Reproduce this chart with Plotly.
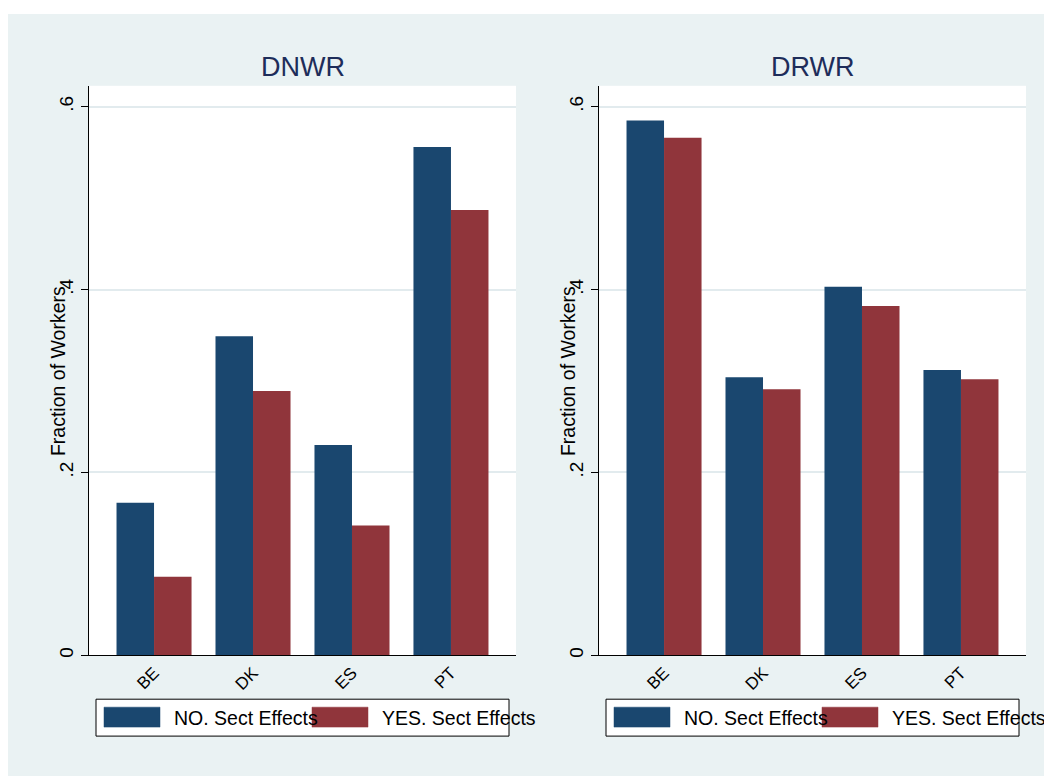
import plotly.graph_objects as go

# The page has an 8px body margin, so the figure is placed at (8, 8)
PAGE_OFF = 8
W, H = 1052 - PAGE_OFF, 776 - PAGE_OFF

countries = ["BE", "DK", "ES", "PT"]
panel_titles = ["DNWR", "DRWR"]
series_names = ["NO. Sect Effects", "YES. Sect Effects"]
dnwr_no = [0.167, 0.349, 0.230, 0.556]
dnwr_yes = [0.086, 0.289, 0.142, 0.487]
drwr_no = [0.585, 0.304, 0.403, 0.312]
drwr_yes = [0.566, 0.291, 0.382, 0.302]
ytick_vals = [0, 0.2, 0.4, 0.6]
ytick_text = ["0", ".2", ".4", ".6"]
y_title = "Fraction of Workers"

colors = ["#1A476F", "#90353B"]
FONT = "Liberation Sans, Arial, sans-serif"
BG = "#EAF2F3"


def px(x):
    return (x - PAGE_OFF) / W


def py(y):
    return 1 - (y - PAGE_OFF) / H


panels = [(dnwr_no, dnwr_yes), (drwr_no, drwr_yes)]
offset = 510  # horizontal pixel offset between panels

fig = go.Figure()
for i, (no_vals, yes_vals) in enumerate(panels):
    xa = "x" if i == 0 else "x2"
    ya = "y" if i == 0 else "y2"
    for j, vals in enumerate([no_vals, yes_vals]):
        fig.add_trace(go.Bar(
            x=countries, y=vals, name=series_names[j],
            marker=dict(color=colors[j], line=dict(width=0)),
            xaxis=xa, yaxis=ya, showlegend=False,
        ))

layout = dict(
    width=W, height=H,
    margin=dict(l=0, r=0, t=0, b=0),
    paper_bgcolor=BG, plot_bgcolor="white",
    barmode="group", bargap=0.242, bargroupgap=0,
    font=dict(family=FONT, color="black"),
    showlegend=False,
)

shapes = [
    dict(type="rect", xref="paper", yref="paper", x0=0, x1=1, y0=py(14), y1=1,
         fillcolor="white", line=dict(width=0), layer="below"),
]
annotations = []

for i in range(2):
    o = offset * i
    sfx = "" if i == 0 else "2"
    left, right, top, bottom = 89 + o, 516 + o, 86, 657
    layout["xaxis" + sfx] = dict(
        domain=[px(left), px(right)], anchor="y" + sfx,
        type="category", range=[-0.657, 3.657],
        showline=True, linecolor="black", linewidth=1,
        ticks="", tickangle=-45, tickfont=dict(size=17, family=FONT, color="black"),
        showgrid=False, zeroline=False, fixedrange=True,
    )
    layout["yaxis" + sfx] = dict(
        domain=[py(bottom), py(top)], anchor="x" + sfx,
        range=[0, 0.6229],
        tickvals=ytick_vals, ticktext=ytick_text,
        ticks="outside", ticklen=7, tickcolor="black", tickwidth=1,
        tickangle=-90, tickfont=dict(size=19, family=FONT, color="black"),
        showline=True, linecolor="black", linewidth=1,
        showgrid=True, gridcolor="#E2EBEE", gridwidth=1.5,
        zeroline=False, fixedrange=True,
    )
    # panel title
    annotations.append(dict(
        text=panel_titles[i], xref="paper", yref="paper",
        x=px((left + right) / 2), y=py(67), xanchor="center", yanchor="middle",
        showarrow=False, font=dict(size=27, family=FONT, color="#1E2D5A"),
    ))
    # y-axis title
    annotations.append(dict(
        text=y_title, xref="paper", yref="paper",
        x=px(58 + o), y=py(372), xanchor="center", yanchor="middle",
        textangle=-90, showarrow=False,
        font=dict(size=19.5, family=FONT, color="black"),
    ))
    # legend box
    shapes.append(dict(
        type="rect", xref="paper", yref="paper",
        x0=px(96 + o), x1=px(509 + o), y0=py(738), y1=py(701),
        fillcolor="white", line=dict(color="black", width=1), layer="above",
    ))
    sw_x = [104, 312]
    tx_x = [172, 380]
    for j in range(2):
        shapes.append(dict(
            type="rect", xref="paper", yref="paper",
            x0=px(sw_x[j] + o), x1=px(sw_x[j] + 56 + o), y0=py(729), y1=py(709),
            fillcolor=colors[j], line=dict(color=colors[j], width=0.5), layer="above",
        ))
        annotations.append(dict(
            text=series_names[j], xref="paper", yref="paper",
            x=px(tx_x[j] + o), y=py(720), xanchor="left", yanchor="middle",
            showarrow=False, font=dict(size=19.5, family=FONT, color="black"),
        ))

layout["shapes"] = shapes
layout["annotations"] = annotations
fig.update_layout(**layout)
fig.write_html("out.html")
